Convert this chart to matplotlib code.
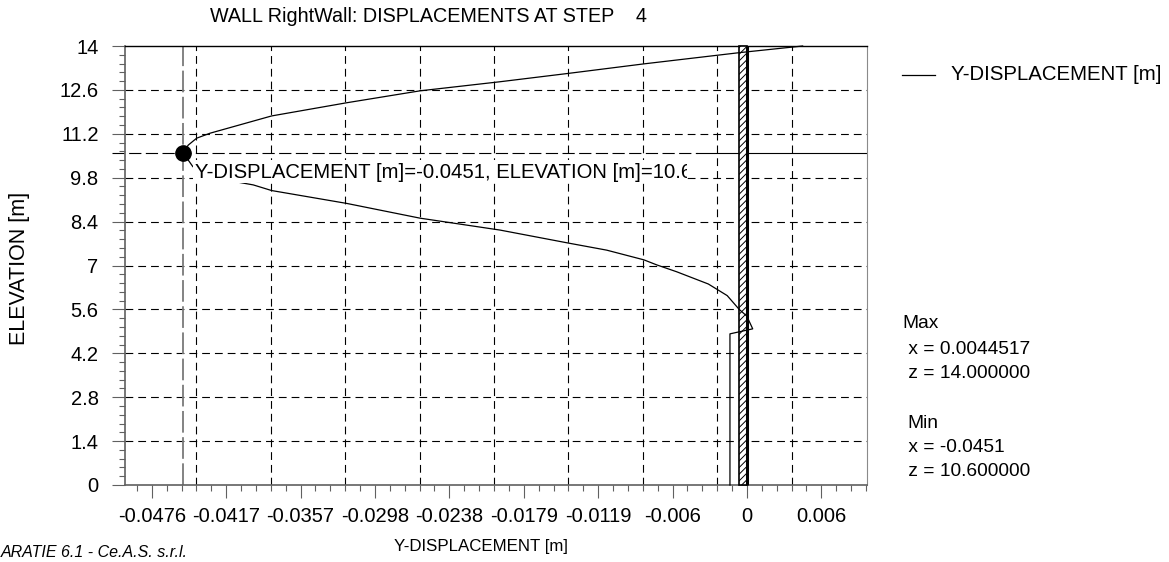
import matplotlib
matplotlib.use("Agg")
import matplotlib.pyplot as plt
from matplotlib.patches import Rectangle
from matplotlib.transforms import Bbox, TransformedBbox
import numpy as np

plt.rcParams['font.family'] = ['Liberation Sans', 'DejaVu Sans']
plt.rcParams['hatch.linewidth'] = 0.7

# ---------------- data ----------------
disp = [0.0044517, -0.00056, -0.00824, -0.01421, -0.01975, -0.02615, -0.03201,
        -0.03801, -0.04293, -0.04401, -0.04468, -0.0451, -0.04431, -0.0420,
        -0.03948, -0.03801, -0.03201, -0.02615, -0.01975, -0.01421, -0.01122,
        -0.00824, -0.00722, -0.00562, -0.00309, -0.00158, -0.00062, -0.00002,
        0.00046, -0.00136, -0.00136]
elev = [14.0, 13.79, 13.43, 13.13, 12.86, 12.57, 12.19, 11.77, 11.22, 11.06,
        10.84, 10.6, 10.15, 9.75, 9.57, 9.39, 8.98, 8.51, 8.13, 7.71, 7.49,
        7.18, 7.02, 6.80, 6.41, 6.04, 5.60, 5.39, 4.98, 4.82, 0.0]

min_x, min_z = -0.0451, 10.6
max_x, max_z = 0.0044517, 14.0

xtick_labels = ['-0.0476', '-0.0417', '-0.0357', '-0.0298', '-0.0238',
                '-0.0179', '-0.0119', '-0.006', '0', '0.006']
ytick_labels = ['0', '1.4', '2.8', '4.2', '5.6', '7', '8.4', '9.8', '11.2', '12.6', '14']

wall_left, wall_right, wall_top = -0.00064, 0.0, 14.0

title = "WALL RightWall: DISPLACEMENTS AT STEP    4"
series_name = "Y-DISPLACEMENT [m]"

# ---------------- figure ----------------
W, H = 1169, 562
fig = plt.figure(figsize=(W / 100, H / 100), dpi=100)
ax = fig.add_axes([125 / W, 1 - 485 / H, 742 / W, 439 / H])

xstep = 0.0476 / 8
xmin, xmax = -0.04974, 0.00960
ax.set_xlim(xmin, xmax)
ax.set_ylim(0, 14)

xticks = [(-8 + i) * xstep for i in range(len(xtick_labels))]
ax.set_xticks(xticks)
ax.set_xticklabels(xtick_labels)
ax.set_xticks([k * xstep / 5 for k in range(-41, 9)], minor=True)
yticks = [i * 1.4 for i in range(len(ytick_labels))]
ax.set_yticks(yticks)
ax.set_yticklabels(ytick_labels)
ax.set_yticks([k * 0.28 for k in range(0, 51)], minor=True)

spine_gray = '#606060'
ax.tick_params(axis='both', which='major', length=9.5, width=0.8, color=spine_gray,
               labelsize=14.5)
ax.tick_params(axis='x', which='major', pad=6)
ax.tick_params(axis='y', which='major', pad=9.5)
ax.tick_params(axis='both', which='minor', length=4, width=0.8, color=spine_gray)
for s in ['left', 'bottom']:
    ax.spines[s].set_color(spine_gray)
    ax.spines[s].set_linewidth(1.2)
ax.spines['right'].set_color('#8a8a8a')
ax.spines['right'].set_linewidth(0.8)
ax.spines['top'].set_color('black')
ax.spines['top'].set_linewidth(1.0)

# grid (vertical lines offset from the ticks as in the original)
grid_kw = dict(color='black', lw=0.8, dashes=(7, 4.5), zorder=1)
for k in range(9):
    gx = xticks[0] + 3 * xstep / 5 + k * xstep
    ax.axvline(gx, **grid_kw)
for gy in yticks[1:-1]:
    ax.axhline(gy, **grid_kw)

# crosshair at minimum
ax.axvline(min_x, color='#7a7a7a', lw=1.3, dashes=(12, 2.5), zorder=2)
ax.plot([xmin - 0.00104, -0.0040], [min_z, min_z], color='black', lw=0.8,
        dashes=(11, 4), zorder=2, clip_on=False)
ax.plot([-0.0040, xmax], [min_z, min_z], color='black', lw=0.8, zorder=2)

# wall
ax.add_patch(Rectangle((wall_left, 0), wall_right - wall_left, wall_top,
                       facecolor='white', edgecolor='black', hatch='/////',
                       lw=1.2, zorder=3, clip_on=False))
ax.plot([wall_right, wall_right], [0, wall_top], color='black', lw=2.2, zorder=3,
        solid_capstyle='butt', clip_on=False)

# displacement curve
line, = ax.plot(disp, elev, color='black', lw=0.9, zorder=4, clip_on=False)
ax.plot([min_x], [min_z], 'o', color='black', ms=11, zorder=6)

# annotation box with clipped text
bx0, bx1 = -0.04431, -0.0048
bz0, bz1 = 9.64, 10.35
box = Rectangle((bx0, bz0), bx1 - bx0, bz1 - bz0, facecolor='white',
                edgecolor='none', zorder=5)
ax.add_patch(box)
t = ax.text(bx0 + 0.00015, (bz0 + bz1) / 2 - 0.02,
            f"Y-DISPLACEMENT [m]={min_x}, ELEVATION [m]={min_z}",
            fontsize=14.6, va='center', ha='left', zorder=5.5, clip_on=True)
t.set_clip_path(None)
t.set_clip_box(TransformedBbox(Bbox([[bx0, bz0 - 0.3], [bx1, bz1 + 0.3]]), ax.transData))

# title and labels
fig.text(210 / W, 1 - 17 / H, title, fontsize=14.2, ha='left', va='center')
fig.text(481 / W, 1 - 547 / H, series_name, fontsize=12.2, ha='center', va='center')
fig.text(20 / W, 1 - 268 / H, "ELEVATION [m]", fontsize=15.5, ha='center',
         va='center', rotation=90)

# legend
fig.lines.append(plt.Line2D([902 / W, 935 / W], [1 - 75 / H, 1 - 75 / H],
                            transform=fig.transFigure, color='black', lw=0.9))
fig.text(951 / W, 1 - 75 / H, series_name, fontsize=14.7, ha='left', va='center')

# stats
fs = 13.8
fig.text(902 / W, 1 - 324 / H, "Max", fontsize=fs, ha='left', va='center')
fig.text(903 / W, 1 - 349 / H, f" x = {max_x}", fontsize=fs, ha='left', va='center')
fig.text(903 / W, 1 - 373 / H, f" z = {max_z:.6f}", fontsize=fs, ha='left', va='center')
fig.text(907 / W, 1 - 423 / H, "Min", fontsize=fs, ha='left', va='center')
fig.text(903 / W, 1 - 447 / H, f" x = {min_x}", fontsize=fs, ha='left', va='center')
fig.text(903 / W, 1 - 472 / H, f" z = {min_z:.6f}", fontsize=fs, ha='left', va='center')

# footer
fig.text(1 / W, 1 - 560 / H, "ARATIE 6.1 - Ce.A.S. s.r.l.", fontsize=11.5,
         style='italic', ha='left', va='bottom')

fig.savefig("out.png", dpi=100)
